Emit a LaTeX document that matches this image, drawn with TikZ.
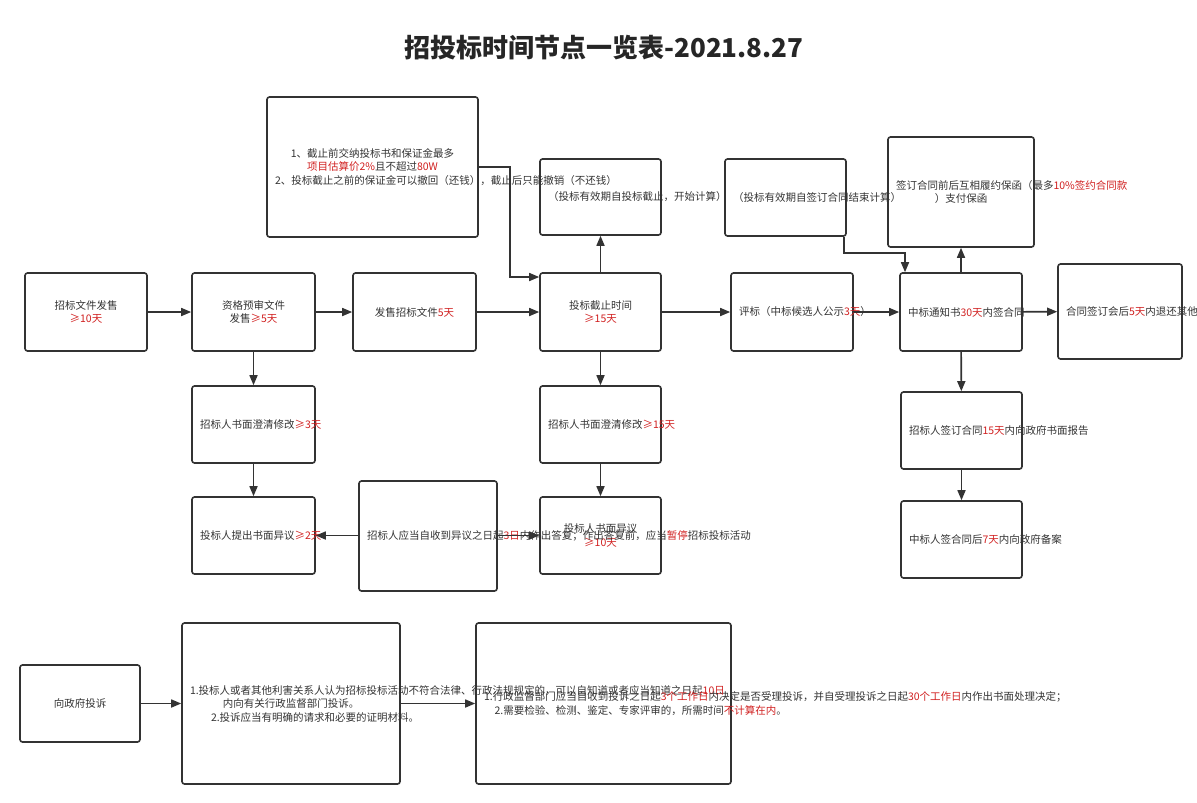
\documentclass[tikz,border=0pt]{standalone}
\usepackage{fontspec}
\setmainfont{Noto Sans CJK SC}
\usetikzlibrary{arrows.meta}
\definecolor{ln}{HTML}{333333}
\definecolor{rd}{HTML}{D02020}
\newcommand{\R}[1]{\textcolor{rd}{#1}}
\tikzset{
 bx/.style={draw=ln,line width=1.6pt,rounded corners=2.5pt,align=center,font=\fontsize{10.5}{13.5}\selectfont,text=black!80,inner sep=3pt},
 ar/.style={draw=ln,line width=1.6pt,-{Triangle[length=10pt,width=8pt]}}
}
\newcommand{\bxn}[6]{\pgfmathsetmacro\bw{#4-#2}\pgfmathsetmacro\bh{#5-#3}\pgfmathsetmacro\tw{#4-#2-16}%
\node[bx,minimum width=\bw pt,minimum height=\bh pt,text width=\tw pt] (#1) at ({(#2+#4)/2},{(#3+#5)/2}) {#6};}
\begin{document}
\begin{tikzpicture}[x=1pt,y=-1pt]
\useasboundingbox (0,0) rectangle (1197,803);
\node[font=\fontsize{26}{30}\selectfont\bfseries,text=black!85] (title) at (604,48) {招投标时间节点一览表-2021.8.27};
\bxn{A}{25}{273}{147}{351}{招标文件发售\\\R{≥10天}}
\bxn{B}{192}{273}{315}{351}{资格预审文件\\发售\R{≥5天}}
\bxn{C}{353}{273}{476}{351}{发售招标文件\R{5天}}
\bxn{D}{540}{273}{661}{351}{投标截止时间\\\R{≥15天}}
\bxn{E}{731}{273}{853}{351}{评标（中标候选人公示\R{3天}）}
\bxn{F}{900}{273}{1022}{351}{中标通知书\R{30天}内签合同}
\bxn{G}{1058}{264}{1182}{359}{合同签订会后\R{5天}内退还其他人投标保证金（带同期银行利息）}
\bxn{N1}{267}{97}{478}{237}{1、截止前交纳投标书和保证金最多\\\R{项目估算价2\%}且不超过\R{80W}\\2、投标截止之前的保证金可以撤回（还钱），截止后只能撤销（不还钱）}
\bxn{DT}{540}{159}{661}{235}{（投标有效期自投标截止，开始计算）}
\bxn{ET}{725}{159}{846}{236}{（投标有效期自签订合同结束计算）}
\bxn{FT}{888}{137}{1034}{247}{签订合同前后互相履约保函（最多\R{10\%签约合同款}\ ）支付保函}
\bxn{B1}{192}{386}{315}{463}{招标人书面澄清修改\R{≥3天}}
\bxn{B2}{192}{497}{315}{574}{投标人提出书面异议\R{≥2天}}
\bxn{D1}{540}{386}{661}{463}{招标人书面澄清修改\R{≥15天}}
\bxn{D2}{540}{497}{661}{574}{投标人书面异议\\\R{≥10天}}
\bxn{M}{359}{481}{497}{591}{招标人应当自收到异议之日起\R{3日}内作出答复；作出答复前，应当\R{暂停}招标投标活动}
\bxn{F1}{901}{392}{1022}{469}{招标人签订合同\R{15天}内向政府书面报告}
\bxn{F2}{901}{501}{1022}{578}{中标人签合同后\R{7天}内向政府备案}
\bxn{P}{20}{665}{140}{742}{向政府投诉}
\bxn{Q}{182}{623}{400}{784}{1.投标人或者其他利害关系人认为招标投标活动不符合法律、行政法规规定的，可以自知道或者应当知道之日起\R{10日} 内向有关行政监督部门投诉。\\\hspace*{2em}2.投诉应当有明确的请求和必要的证明材料。}
\bxn{S}{476}{623}{731}{784}{1.行政监督部门应当自收到投诉之日起\R{3个工作日}内决定是否受理投诉，并自受理投诉之日起\R{30个工作日}内作出书面处理决定；\\\hspace*{1em}2.需要检验、检测、鉴定、专家评审的，所需时间\R{不计算在内}。}
\draw[ar] (A) -- (B);
\draw[ar] (B) -- (C);
\draw[ar] (C) -- (D);
\draw[ar] (D) -- (E);
\draw[ar] (E) -- (F);
\draw[ar] (F) -- (G);
\draw[ar] (D) -- (DT);
\draw[ar] (F) -- (FT);
\draw[ar] (B) -- (B1);
\draw[ar] (B1) -- (B2);
\draw[ar] (D) -- (D1);
\draw[ar] (D1) -- (D2);
\draw[ar] (F) -- (F1);
\draw[ar] (F1) -- (F2);
\draw[ar] (M.west |- B2) -- (B2);
\draw[ar] (M.east |- D2) -- (D2);
\draw[ar] (P) -- (Q.west |- P);
\draw[ar] (Q.east |- P) -- (S.west |- P);
\draw[ar,rounded corners=0pt] (N1.east |- 0,167) -| (510,277) -- (D.west |- 0,277);
\draw[ar,rounded corners=0pt] (ET.south -| 844,0) |- (905,253) -- (F.north -| 905,0);
\end{tikzpicture}
\end{document}
